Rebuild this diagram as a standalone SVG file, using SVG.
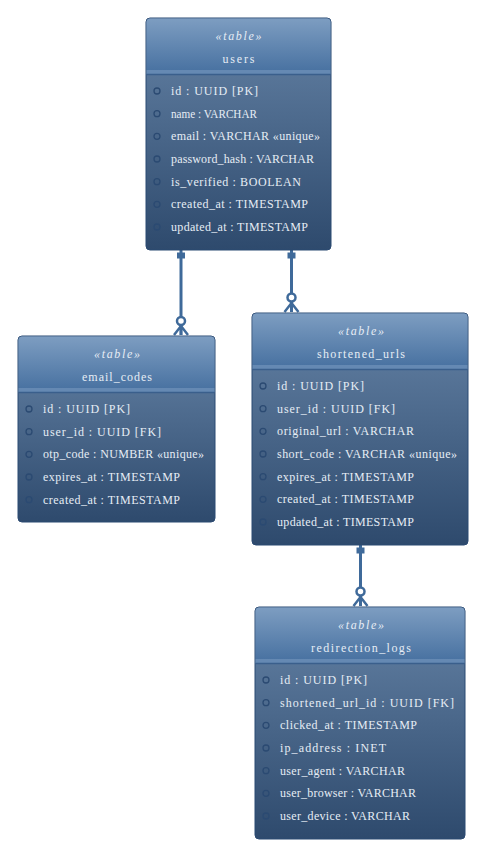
<svg xmlns="http://www.w3.org/2000/svg" width="481" height="852" viewBox="0 0 481 852">
<defs>
<linearGradient id="hg" x1="0" y1="0" x2="0" y2="1">
<stop offset="0" stop-color="#7d9dc1"/>
<stop offset="1" stop-color="#4a73a2"/>
</linearGradient>
<linearGradient id="bg" x1="0" y1="0" x2="0" y2="1">
<stop offset="0" stop-color="#6583a6"/>
<stop offset="1" stop-color="#2e4a6d"/>
</linearGradient>
<clipPath id="c1"><rect x="146" y="18" width="185" height="232" rx="4"/></clipPath>
</defs>
<style>
.frame{fill:url(#bg);stroke:#2b4a72;stroke-width:1}
.head{fill:url(#hg)}
.band{fill:#6589b3}
.sep{stroke:#3a5f8c;stroke-width:1.5}
.st{font-family:"Liberation Serif",serif;font-size:12px;font-style:italic;fill:#e6edf5;text-anchor:middle}
.tn{font-family:"Liberation Serif",serif;font-size:12px;fill:#e6edf5;text-anchor:middle}
.at{font-family:"Liberation Serif",serif;font-size:12px;fill:#e6edf5}
.dot{fill:none;stroke:#2b4a72;stroke-width:1.3}
.conn line{stroke:#3f6a9a;stroke-width:3}
.conn rect{fill:#3f6a9a}
.conn circle{fill:#fff;stroke:#3f6a9a;stroke-width:2.5}
.conn path{fill:none;stroke:#3f6a9a;stroke-width:2.5}
</style>

<g id="connectors" class="conn">
<line x1="181" y1="250" x2="181" y2="335"/>
<rect x="177" y="252.5" width="8" height="6"/>
<path d="M174 335 L181 326 L188 335 M181 326 L181 335"/>
<circle cx="181" cy="321" r="4"/>

<line x1="291.5" y1="250" x2="291.5" y2="312"/>
<rect x="287.5" y="252.5" width="8" height="6"/>
<path d="M284.5 312 L291.5 303 L298.5 312"/>
<circle cx="291.5" cy="297.5" r="4"/>

<line x1="360.5" y1="545" x2="360.5" y2="606"/>
<rect x="356.5" y="547.5" width="8" height="6"/>
<path d="M353.5 606 L360.5 597 L367.5 606"/>
<circle cx="360.5" cy="591.5" r="4"/>
</g>

<g id="users">
<rect class="frame" x="146" y="18" width="185" height="232" rx="4"/>
<path class="head" d="M150 18.5 H327 A3.5 3.5 0 0 1 330.5 22 V70 H146.5 V22 A3.5 3.5 0 0 1 150 18.5 Z"/>
<rect class="band" x="146.5" y="70" width="184" height="4"/>
<line class="sep" x1="146.5" y1="74.5" x2="330.5" y2="74.5"/>
<text class="st" x="238.5" y="40" textLength="46" lengthAdjust="spacing">«table»</text>
<text class="tn" x="238.5" y="63" textLength="32" lengthAdjust="spacing">users</text>
<circle class="dot" cx="157" cy="91" r="3"/>
<circle class="dot" cx="157" cy="113.7" r="3"/>
<circle class="dot" cx="157" cy="136.3" r="3"/>
<circle class="dot" cx="157" cy="159" r="3"/>
<circle class="dot" cx="157" cy="181.7" r="3"/>
<circle class="dot" cx="157" cy="204.3" r="3"/>
<circle class="dot" cx="157" cy="227" r="3"/>
<text class="at" x="171" y="95" textLength="87" lengthAdjust="spacing">id : UUID [PK]</text>
<text class="at" x="171" y="117.7" textLength="86" lengthAdjust="spacingAndGlyphs">name : VARCHAR</text>
<text class="at" x="171" y="140.3" textLength="149" lengthAdjust="spacing">email : VARCHAR «unique»</text>
<text class="at" x="171" y="163" textLength="143" lengthAdjust="spacing">password_hash : VARCHAR</text>
<text class="at" x="171" y="185.7" textLength="130" lengthAdjust="spacing">is_verified : BOOLEAN</text>
<text class="at" x="171" y="208.3" textLength="137" lengthAdjust="spacing">created_at : TIMESTAMP</text>
<text class="at" x="171" y="231" textLength="137" lengthAdjust="spacing">updated_at : TIMESTAMP</text>
</g>

<g id="email_codes">
<rect class="frame" x="18" y="336" width="197" height="186" rx="4"/>
<path class="head" d="M22 336.5 H211 A3.5 3.5 0 0 1 214.5 340 V388 H18.5 V340 A3.5 3.5 0 0 1 22 336.5 Z"/>
<rect class="band" x="18.5" y="388" width="196" height="4"/>
<line class="sep" x1="18.5" y1="392.5" x2="214.5" y2="392.5"/>
<text class="st" x="117" y="358" textLength="46" lengthAdjust="spacing">«table»</text>
<text class="tn" x="117" y="381" textLength="70" lengthAdjust="spacing">email_codes</text>
<circle class="dot" cx="29" cy="409" r="3"/>
<circle class="dot" cx="29" cy="431.7" r="3"/>
<circle class="dot" cx="29" cy="454.3" r="3"/>
<circle class="dot" cx="29" cy="477" r="3"/>
<circle class="dot" cx="29" cy="499.7" r="3"/>
<text class="at" x="43" y="413" textLength="87" lengthAdjust="spacing">id : UUID [PK]</text>
<text class="at" x="43" y="435.7" textLength="118" lengthAdjust="spacing">user_id : UUID [FK]</text>
<text class="at" x="43" y="458.3" textLength="161" lengthAdjust="spacing">otp_code : NUMBER «unique»</text>
<text class="at" x="43" y="481" textLength="137" lengthAdjust="spacing">expires_at : TIMESTAMP</text>
<text class="at" x="43" y="503.7" textLength="137" lengthAdjust="spacing">created_at : TIMESTAMP</text>
</g>

<g id="shortened_urls">
<rect class="frame" x="252" y="313" width="216" height="232" rx="4"/>
<path class="head" d="M256 313.5 H464 A3.5 3.5 0 0 1 467.5 317 V365 H252.5 V317 A3.5 3.5 0 0 1 256 313.5 Z"/>
<rect class="band" x="252.5" y="365" width="215" height="4"/>
<line class="sep" x1="252.5" y1="369.5" x2="467.5" y2="369.5"/>
<text class="st" x="361" y="335" textLength="46" lengthAdjust="spacing">«table»</text>
<text class="tn" x="361" y="358" textLength="88" lengthAdjust="spacing">shortened_urls</text>
<circle class="dot" cx="263" cy="386" r="3"/>
<circle class="dot" cx="263" cy="408.7" r="3"/>
<circle class="dot" cx="263" cy="431.3" r="3"/>
<circle class="dot" cx="263" cy="454" r="3"/>
<circle class="dot" cx="263" cy="476.7" r="3"/>
<circle class="dot" cx="263" cy="499.3" r="3"/>
<circle class="dot" cx="263" cy="522" r="3"/>
<text class="at" x="277" y="390" textLength="87" lengthAdjust="spacing">id : UUID [PK]</text>
<text class="at" x="277" y="412.7" textLength="118" lengthAdjust="spacing">user_id : UUID [FK]</text>
<text class="at" x="277" y="435.3" textLength="137" lengthAdjust="spacing">original_url : VARCHAR</text>
<text class="at" x="277" y="458" textLength="180" lengthAdjust="spacing">short_code : VARCHAR «unique»</text>
<text class="at" x="277" y="480.7" textLength="137" lengthAdjust="spacing">expires_at : TIMESTAMP</text>
<text class="at" x="277" y="503.3" textLength="137" lengthAdjust="spacing">created_at : TIMESTAMP</text>
<text class="at" x="277" y="526" textLength="137" lengthAdjust="spacing">updated_at : TIMESTAMP</text>
</g>

<g id="redirection_logs">
<rect class="frame" x="255" y="607" width="210" height="232" rx="4"/>
<path class="head" d="M259 607.5 H461 A3.5 3.5 0 0 1 464.5 611 V659 H255.5 V611 A3.5 3.5 0 0 1 259 607.5 Z"/>
<rect class="band" x="255.5" y="659" width="209" height="4"/>
<line class="sep" x1="255.5" y1="663.5" x2="464.5" y2="663.5"/>
<text class="st" x="361" y="629" textLength="46" lengthAdjust="spacing">«table»</text>
<text class="tn" x="361" y="652" textLength="100" lengthAdjust="spacing">redirection_logs</text>
<circle class="dot" cx="266" cy="680" r="3"/>
<circle class="dot" cx="266" cy="702.7" r="3"/>
<circle class="dot" cx="266" cy="725.3" r="3"/>
<circle class="dot" cx="266" cy="748" r="3"/>
<circle class="dot" cx="266" cy="770.7" r="3"/>
<circle class="dot" cx="266" cy="793.3" r="3"/>
<circle class="dot" cx="266" cy="816" r="3"/>
<text class="at" x="280" y="684" textLength="87" lengthAdjust="spacing">id : UUID [PK]</text>
<text class="at" x="280" y="706.7" textLength="174" lengthAdjust="spacing">shortened_url_id : UUID [FK]</text>
<text class="at" x="280" y="729.3" textLength="137" lengthAdjust="spacing">clicked_at : TIMESTAMP</text>
<text class="at" x="280" y="752" textLength="106" lengthAdjust="spacing">ip_address : INET</text>
<text class="at" x="280" y="774.7" textLength="125" lengthAdjust="spacing">user_agent : VARCHAR</text>
<text class="at" x="280" y="797.3" textLength="136" lengthAdjust="spacing">user_browser : VARCHAR</text>
<text class="at" x="280" y="820" textLength="130" lengthAdjust="spacing">user_device : VARCHAR</text>
</g>
</svg>
